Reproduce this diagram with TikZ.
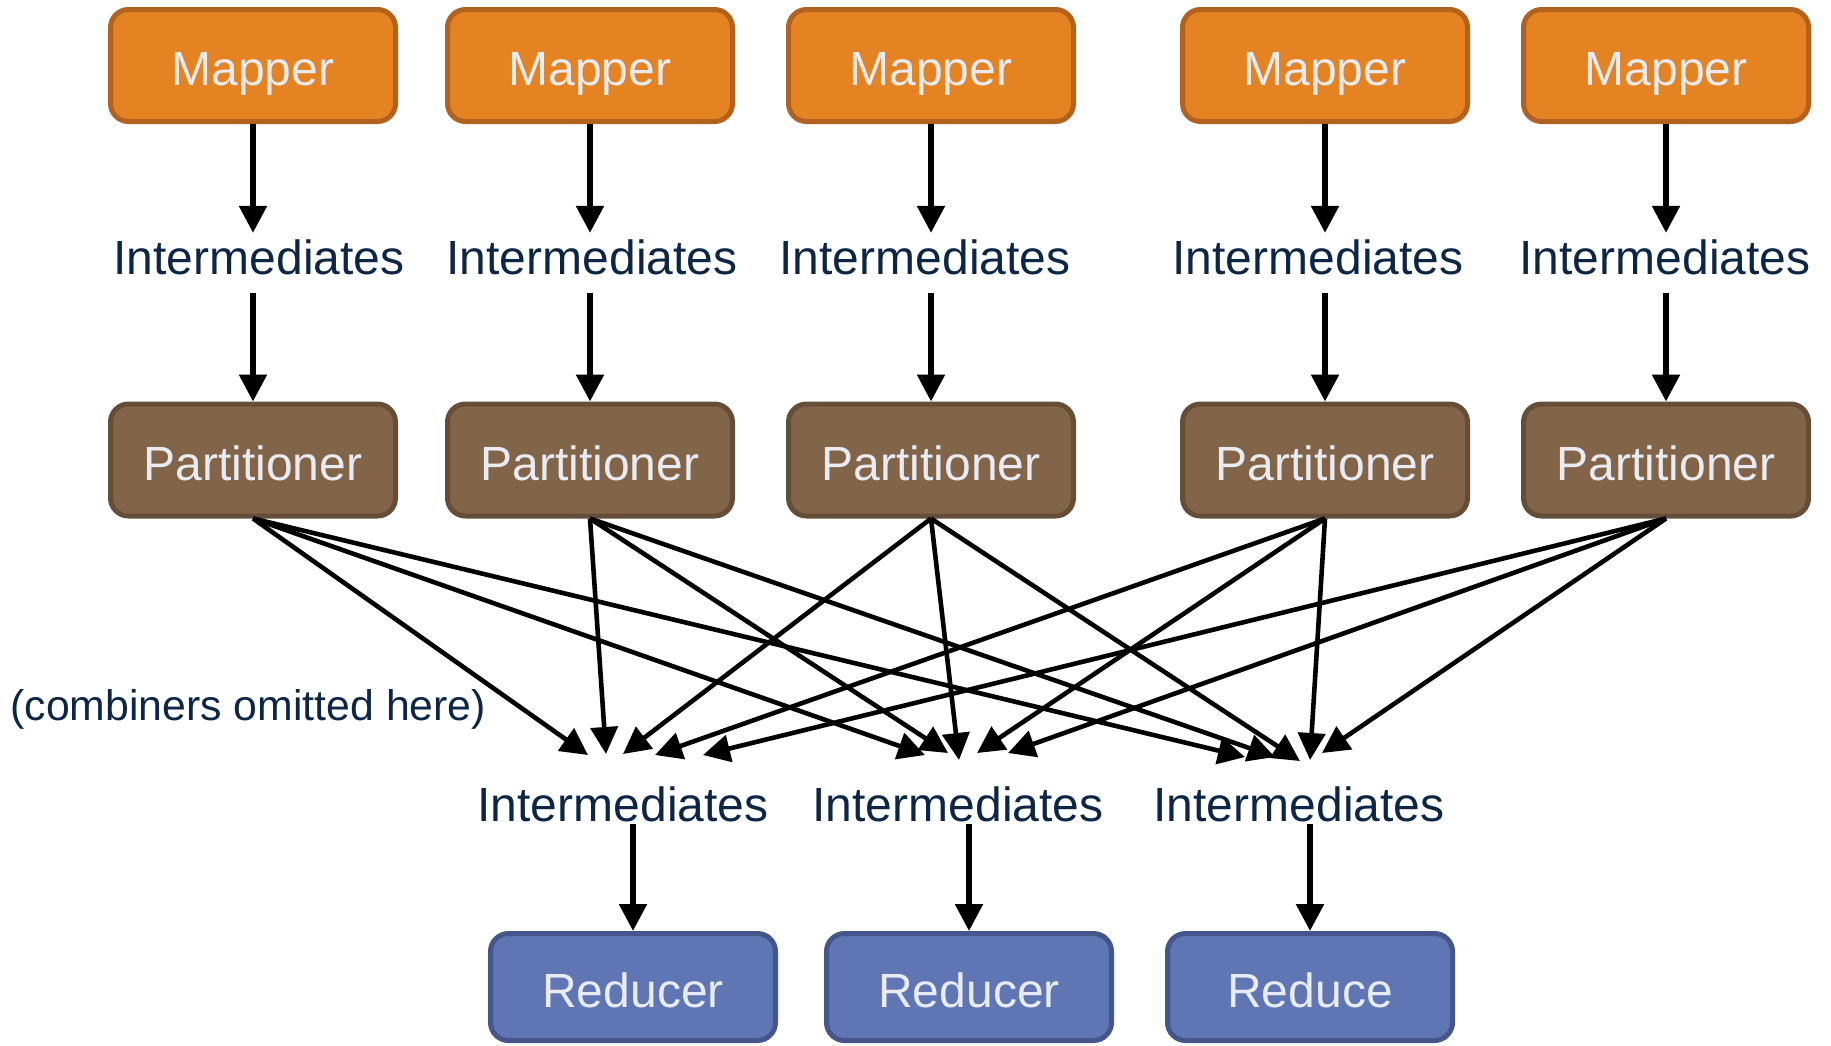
\documentclass[tikz,border=0pt]{standalone}
\usepackage{fontspec}
\setmainfont{Liberation Sans}
\usetikzlibrary{arrows.meta}
\definecolor{mapfill}{RGB}{229,131,35}
\definecolor{mapdraw}{RGB}{178,98,30}
\definecolor{partfill}{RGB}{130,100,72}
\definecolor{partdraw}{RGB}{100,78,55}
\definecolor{redfill}{RGB}{96,117,180}
\definecolor{reddraw}{RGB}{68,86,138}
\definecolor{boxtext}{RGB}{232,236,242}
\definecolor{navy}{RGB}{14,38,70}
\begin{document}
\begin{tikzpicture}[x=0.5pt,y=-0.5pt,
  box/.style={rounded corners=9pt, line width=2.5pt, minimum width=142.5pt, minimum height=56pt,
    inner sep=0pt, text height=22pt, text depth=2pt, font=\fontsize{24}{28}\selectfont, text=boxtext},
  mapbox/.style={box, fill=mapfill, draw=mapdraw},
  partbox/.style={box, fill=partfill, draw=partdraw},
  redbox/.style={box, fill=redfill, draw=reddraw, minimum height=53.5pt},
  lbl/.style={font=\fontsize{24}{28}\selectfont, text=navy, inner sep=0pt, anchor=base},
  arr/.style={line width=2.7pt, -{Triangle[length=13.5pt,width=13.5pt]}},
  xarr/.style={line width=2.3pt, -{Triangle[length=13.5pt,width=13.5pt]}}
]
\useasboundingbox (0,0) rectangle (1831,1045);

% Mappers
\node[mapbox] (M1) at (253,65.5) {Mapper};
\node[mapbox] (M2) at (590,65.5) {Mapper};
\node[mapbox] (M3) at (931,65.5) {Mapper};
\node[mapbox] (M4) at (1325,65.5) {Mapper};
\node[mapbox] (M5) at (1666,65.5) {Mapper};

% Top intermediates
\node[lbl] (I1) at (259,274) {Intermediates};
\node[lbl] (I2) at (592,274) {Intermediates};
\node[lbl] (I3) at (925,274) {Intermediates};
\node[lbl] (I4) at (1318,274) {Intermediates};
\node[lbl] (I5) at (1665,274) {Intermediates};

% Partitioners
\node[partbox] (P1) at (253,460) {Partitioner};
\node[partbox] (P2) at (590,460) {Partitioner};
\node[partbox] (P3) at (931,460) {Partitioner};
\node[partbox] (P4) at (1325,460) {Partitioner};
\node[partbox] (P5) at (1666,460) {Partitioner};

% Bottom intermediates
\node[lbl] (J1) at (623,821) {Intermediates};
\node[lbl] (J2) at (958,821) {Intermediates};
\node[lbl] (J3) at (1299,821) {Intermediates};

% Reducers
\node[redbox] (R1) at (633,987) {Reducer};
\node[redbox] (R2) at (969,987) {Reducer};
\node[redbox] (R3) at (1310,987) {Reduce};

% Note
\node[font=\fontsize{21.4}{25}\selectfont, text=navy, inner sep=0pt, anchor=base west] (note) at (10,720) {(combiners omitted here)};

% Vertical arrows
\foreach \i in {1,...,5}{
  \draw[arr, shorten >=3pt] (M\i.south) -- (M\i.south |- I\i.north);
  \draw[arr, shorten <=9pt] (M\i.south |- I\i.south) -- (P\i.north);
}
\foreach \i in {1,2,3}{
  \draw[arr, shorten <=1pt] (R\i.north |- J\i.south) -- (R\i.north);
}

% Arrow tip coordinates
\coordinate (a1) at (588,755);
\coordinate (a2) at (606,754);
\coordinate (a3) at (623,754);
\coordinate (a4) at (655,755);
\coordinate (a5) at (703,755);
\coordinate (b1) at (925,755);
\coordinate (b2) at (948,753);
\coordinate (b3) at (959,760);
\coordinate (b4) at (977,753);
\coordinate (b5) at (1008,753);
\coordinate (c1) at (1245,757);
\coordinate (c2) at (1275,757);
\coordinate (c3) at (1300,761);
\coordinate (c4) at (1310,760);
\coordinate (c5) at (1322,753);

\foreach \i in {1,...,5}{
  \draw[xarr] (P\i.south) -- (a\i);
  \draw[xarr] (P\i.south) -- (b\i);
  \draw[xarr] (P\i.south) -- (c\i);
}
\end{tikzpicture}
\end{document}
